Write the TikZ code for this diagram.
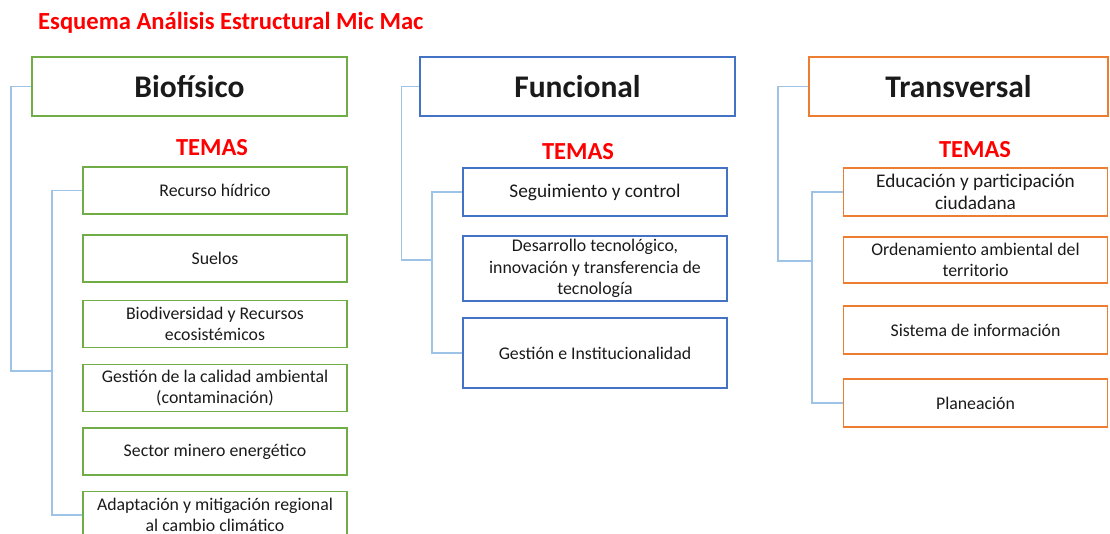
\documentclass[tikz,border=0pt]{standalone}
\usepackage{fontspec}
\setmainfont{Carlito}
\definecolor{cgreen}{HTML}{70AD47}
\definecolor{cblue}{HTML}{4472C4}
\definecolor{corange}{HTML}{ED7D31}
\definecolor{cline}{HTML}{9DC3E6}
\definecolor{ctext}{HTML}{1A1A1A}
\definecolor{cred}{HTML}{FF0000}
\tikzset{
  mainbox/.style={draw, line width=1.6pt, minimum width=315pt, minimum height=59pt, inner sep=0pt, font=\fontsize{31.5}{34}\selectfont\bfseries, text=ctext},
  subbox/.style={draw, line width=1.3pt, minimum width=264pt, minimum height=47pt, inner sep=2pt, align=center, font=\fontsize{17.8}{21.3}\selectfont, text=ctext},
  bigtext/.style={font=\fontsize{19.3}{21.5}\selectfont},
  temas/.style={font=\fontsize{24.5}{27}\selectfont\bfseries, text=cred},
  conn/.style={draw=cline, line width=1.2pt},
}
\begin{document}
\begin{tikzpicture}[x=1pt,y=-1pt]
\useasboundingbox (0,0) rectangle (1110,534);
\begin{scope}
\clip (0,0) rectangle (1110,534);
\node[font=\fontsize{24.6}{27}\selectfont\bfseries, text=cred, anchor=west, inner sep=0pt] (title) at (38,23) {Esquema Análisis Estructural Mic Mac};

% Biofísico
\node[mainbox, draw=cgreen] (bio) at (189.5,86.5) {Biofísico};
\node[temas] (bioT) at (212,148) {TEMAS};
\node[subbox, draw=cgreen] (b1) at (215,190.5) {Recurso hídrico};
\node[subbox, draw=cgreen] (b2) at (215,258.5) {Suelos};
\node[subbox, draw=cgreen] (b3) at (215,324) {Biodiversidad y Recursos\\ecosistémicos};
\node[subbox, draw=cgreen] (b4) at (215,388) {Gestión de la calidad ambiental\\(contaminación)};
\node[subbox, draw=cgreen] (b5) at (215,451.5) {Sector minero energético};
\node[subbox, draw=cgreen] (b6) at (215,515) {Adaptación y mitigación regional\\al cambio climático};
\coordinate (bioJ) at (52,371);
\draw[conn] (bio.west) -| (11,371) -- (bioJ);
\draw[conn] (b1.west) -| (bioJ) |- (b6.west);

% Funcional
\node[mainbox, draw=cblue] (fun) at (577.5,86.5) {Funcional};
\node[temas] (funT) at (578,152) {TEMAS};
\node[subbox, bigtext, draw=cblue, minimum height=48pt] (f1) at (595,192) {Seguimiento y control};
\node[subbox, draw=cblue, minimum height=65pt] (f2) at (595,268.5) {Desarrollo tecnológico,\\innovación y transferencia de\\tecnología};
\node[subbox, draw=cblue, minimum height=70pt] (f3) at (595,353) {Gestión e Institucionalidad};
\coordinate (funJ) at (432,260);
\draw[conn] (fun.west) -| (401.5,260) -- (funJ);
\draw[conn] (f1.west) -| (funJ) |- (f3.west);

% Transversal
\node[mainbox, draw=corange, minimum width=299pt] (tra) at (958.5,86.5) {Transversal};
\node[temas] (traT) at (975,150) {TEMAS};
\node[subbox, bigtext, draw=corange, minimum height=48pt] (t1) at (975.5,192) {Educación y participación\\ciudadana};
\node[subbox, draw=corange, minimum height=46pt] (t2) at (975.5,260) {Ordenamiento ambiental del\\territorio};
\node[subbox, draw=corange, minimum height=48pt] (t3) at (975.5,330) {Sistema de información};
\node[subbox, draw=corange, minimum height=48pt] (t4) at (975.5,403) {Planeación};
\coordinate (traJ) at (812,261);
\draw[conn] (tra.west) -| (778,261) -- (traJ);
\draw[conn] (t1.west) -| (traJ) |- (t4.west);
\end{scope}
\end{tikzpicture}
\end{document}
